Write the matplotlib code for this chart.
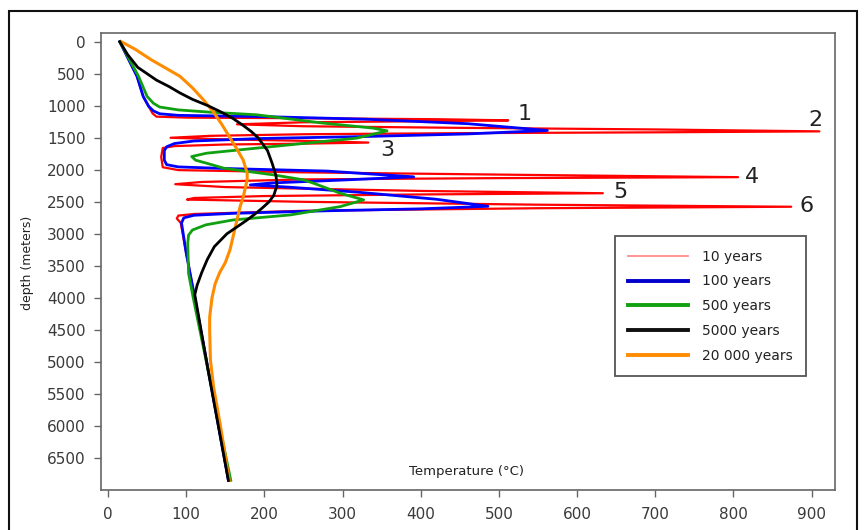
import matplotlib.pyplot as plt
from matplotlib.lines import Line2D
from matplotlib.patches import Rectangle

# temperature (C) / depth (m) pairs
red_T = [15, 37, 45, 52, 57, 62, 100, 250, 420, 512, 420, 250, 165, 250, 450, 700, 910, 700, 450, 250,
         130, 80, 150, 260, 333, 260, 150, 85, 70, 68, 70, 90, 250, 500, 806, 500, 250, 120, 86, 150,
         400, 633, 400, 200, 110, 101, 250, 550, 874, 550, 250, 110, 90, 88, 93, 100, 111, 130, 154]
red_d = [0, 540, 855, 1010, 1120, 1170, 1185, 1195, 1210, 1228, 1240, 1258, 1290, 1320, 1345, 1370, 1400, 1415, 1428, 1445,
         1470, 1500, 1525, 1550, 1575, 1590, 1605, 1630, 1660, 1800, 1960, 2005, 2040, 2075, 2115, 2130, 2150, 2190, 2225, 2270,
         2330, 2366, 2385, 2410, 2440, 2465, 2500, 2545, 2577, 2600, 2640, 2690, 2715, 2760, 2830, 3300, 4000, 5250, 6850]

blue_T = [15, 37, 45, 52, 58, 66, 90, 200, 330, 460, 562, 460, 330, 200, 110, 85, 75, 72, 72, 75, 90, 150,
          280, 391, 300, 210, 182, 230, 320, 420, 486, 400, 280, 160, 110, 97, 94, 100, 111, 130, 154]
blue_d = [0, 540, 855, 1010, 1080, 1125, 1150, 1170, 1210, 1280, 1386, 1440, 1480, 1510, 1550, 1590, 1640, 1700, 1850, 1920, 1955, 1980,
          2020, 2110, 2160, 2205, 2236, 2270, 2350, 2460, 2570, 2610, 2640, 2680, 2710, 2750, 2830, 3300, 4000, 5250, 6850]

green_T = [15, 39, 50, 58, 66, 90, 130, 190, 275, 339, 357, 318, 254, 190, 126, 107, 112, 126, 148, 212, 250,
           263, 297, 327, 297, 233, 160, 125, 108, 103, 102, 103, 109, 130, 157]
green_d = [0, 540, 855, 960, 1020, 1065, 1100, 1141, 1271, 1349, 1392, 1506, 1584, 1662, 1741, 1793, 1850, 1897, 1975, 2080, 2157,
           2210, 2366, 2470, 2575, 2705, 2783, 2860, 2940, 3020, 3147, 3617, 4000, 5250, 6850]

black_T = [15, 25, 38, 50, 62, 78, 92, 108, 128, 145, 160, 172, 183, 192, 204, 210, 215, 216, 212, 206,
           197, 187, 176, 164, 152, 136, 127, 120, 114, 111, 128, 154]
black_d = [0, 200, 400, 500, 600, 700, 800, 900, 1000, 1100, 1200, 1300, 1400, 1500, 1700, 1900, 2100, 2250, 2400, 2500,
           2600, 2700, 2800, 2900, 3000, 3200, 3400, 3600, 3800, 3950, 5128, 6850]

orange_T = [17, 35, 55, 75, 92, 108, 122, 135, 146, 156, 165, 173, 178, 178, 176, 173, 169, 165, 161, 156,
            150, 143, 137, 133, 130, 130, 131, 135, 144, 155]
orange_d = [0, 120, 280, 420, 540, 720, 907, 1100, 1300, 1500, 1680, 1850, 2053, 2150, 2262, 2420, 2575, 2780, 2990, 3250,
            3450, 3600, 3780, 4000, 4300, 4500, 4972, 5389, 6014, 6850]

labels = ['10 years', '100 years', '500 years', '5000 years', '20 000 years']

sill_num = ['1', '2', '3', '4', '5', '6']
sill_T = [533, 905, 357, 824, 656, 893]
sill_d = [1126, 1220, 1689, 2111, 2346, 2564]

plt.rcParams['font.family'] = 'DejaVu Sans'

fig = plt.figure(figsize=(8.64, 5.3), dpi=100)
ax = fig.add_axes([101/864, 1 - 490/530, 734/864, 457/530])

ax.plot(red_T, red_d, color='#ff0000', lw=1.6)
ax.plot(blue_T, blue_d, color='#0000ff', lw=2)
ax.plot(green_T, green_d, color='#10a010', lw=2)
ax.plot(orange_T, orange_d, color='#ff8c00', lw=2.2)
ax.plot(black_T, black_d, color='black', lw=2)

for s, t, d in zip(sill_num, sill_T, sill_d):
    ax.text(t, d, s, fontsize=16, color='#222222', ha='center', va='center')

ax.set_xlim(-9, 930)
ax.set_ylim(7000, -136)
ax.set_xticks(range(0, 1000, 100))
ax.set_yticks(range(0, 7000, 500))
for sp in ax.spines.values():
    sp.set_color('#666666')
    sp.set_linewidth(1.2)
ax.tick_params(colors='#666666', length=5, width=1, labelsize=11, labelcolor='#3a3a3a')
ax.tick_params(axis='x', pad=7)
ax.tick_params(axis='y', pad=6)

ax.text(0.498, 0.04, 'Temperature (°C)', transform=ax.transAxes, ha='center', va='center',
        fontsize=9.5, color='#222222')
fig.text(27/864, 1 - 263/530, 'depth (meters)', rotation=90, ha='center', va='center',
         fontsize=9, color='#222222')

handles = [Line2D([], [], color='#ff8a8a', lw=1.3),
           Line2D([], [], color='#0000cc', lw=2.8),
           Line2D([], [], color='#10a010', lw=2.8),
           Line2D([], [], color='#111111', lw=2.8),
           Line2D([], [], color='#ff8c00', lw=2.8)]
leg = ax.legend(handles, labels, loc='lower right', bbox_to_anchor=(0.970, 0.234), fontsize=10,
                handlelength=4.3, handletextpad=1.0, labelspacing=0.78, borderpad=0.95,
                fancybox=False, framealpha=1)
leg.get_frame().set_edgecolor('#555555')
leg.get_frame().set_linewidth(1.3)
for t in leg.get_texts():
    t.set_color('#222222')

fig.patches.append(Rectangle((9/864, -0.05), 848/864, 1.05 - 11/530, transform=fig.transFigure,
                             fill=False, edgecolor='#111111', lw=1.5))

fig.savefig('out.png', dpi=100)
